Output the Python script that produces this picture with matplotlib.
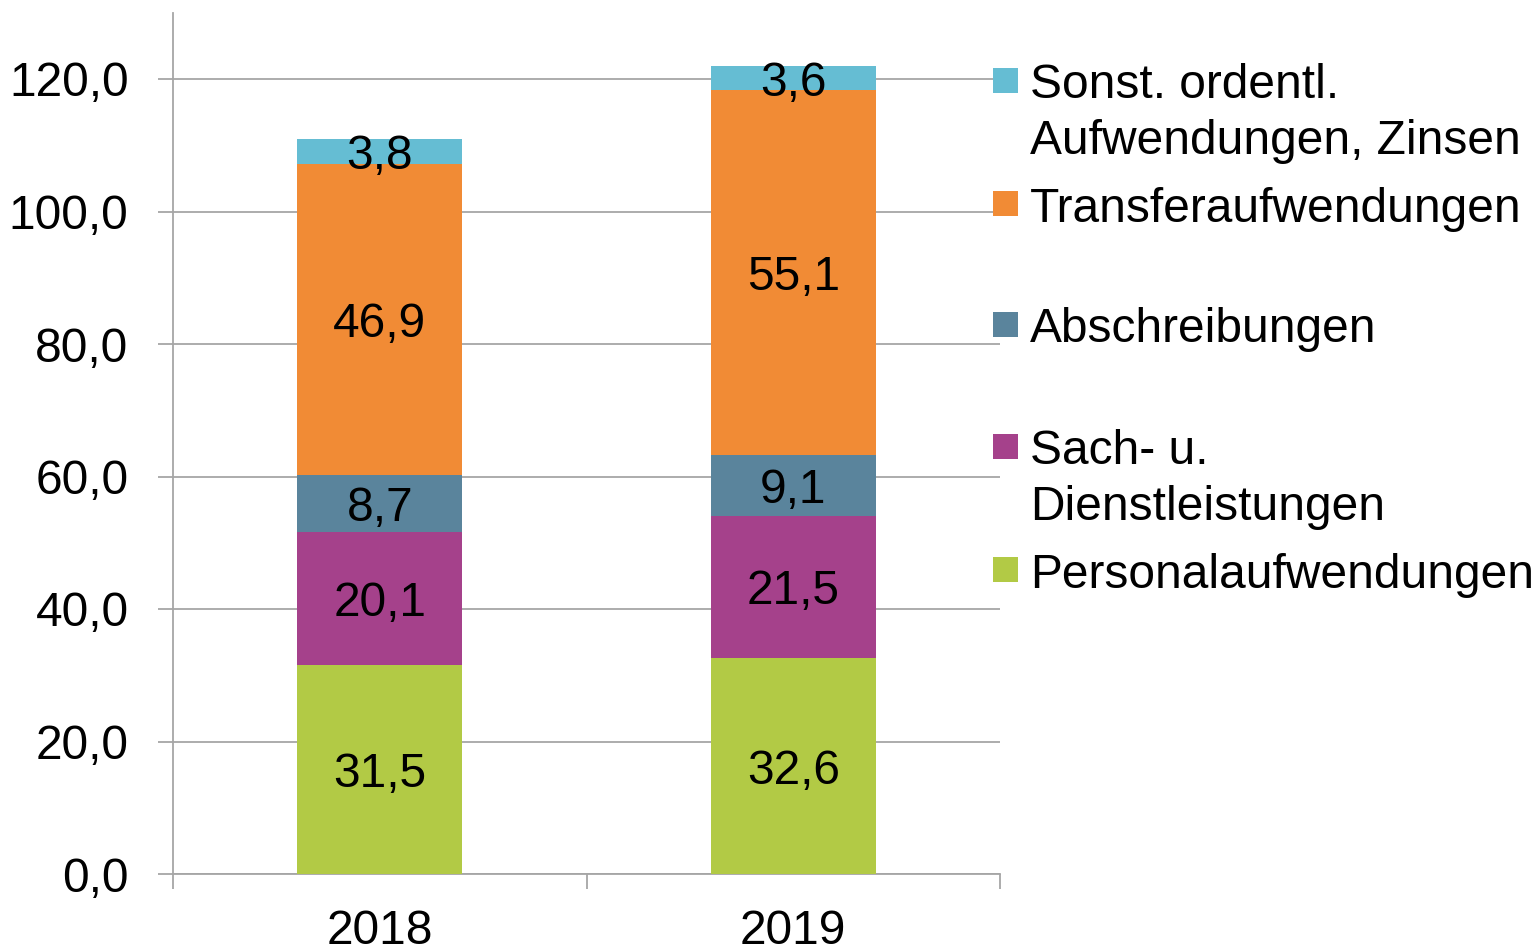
import matplotlib
matplotlib.use("Agg")
import matplotlib.pyplot as plt
from matplotlib.patches import Rectangle

years = ["2018", "2019"]
series_names = ["Personalaufwendungen", "Sach- u.\nDienstleistungen", "Abschreibungen",
                "Transferaufwendungen", "Sonst. ordentl.\nAufwendungen, Zinsen"]
values = {
    "Personalaufwendungen": [31.5, 32.6],
    "Sach- u.\nDienstleistungen": [20.1, 21.5],
    "Abschreibungen": [8.7, 9.1],
    "Transferaufwendungen": [46.9, 55.1],
    "Sonst. ordentl.\nAufwendungen, Zinsen": [3.8, 3.6],
}
colors = ["#B2CA45", "#A5418B", "#5A849C", "#F18B35", "#65BDD3"]
yticks = [0, 20, 40, 60, 80, 100, 120]

plt.rcParams['font.family'] = ['Liberation Sans', 'DejaVu Sans']
W, H = 1536, 950
fig = plt.figure(figsize=(W/100, H/100), dpi=100)
ax = fig.add_axes([173/W, 76/H, 827/W, 861.25/H])

fs = 34.5
gray = "#A6A6A6"
x = list(range(len(years)))
bottoms = [0.0]*len(years)
for name, col in zip(series_names, colors):
    vals = values[name]
    ax.bar(x, vals, width=0.4, bottom=bottoms, color=col, zorder=3)
    for xi, v, b in zip(x, vals, bottoms):
        ax.text(xi, b + v/2, f"{v:.1f}".replace(".", ","), ha="center", va="center_baseline",
                fontsize=fs, color="black", zorder=4)
    bottoms = [b + v for b, v in zip(bottoms, vals)]

ax.set_xlim(-0.5, len(years)-0.5)
ax.set_ylim(0, 130)
ax.set_yticks(yticks)
ax.set_yticklabels([f"{t:.1f}".replace(".", ",") for t in yticks], fontsize=fs)
ax.set_xticks(x)
ax.set_xticklabels(years, fontsize=fs)
ax.set_xticks([i - 0.5 for i in range(len(years)+1)], minor=True)
ax.tick_params(axis="x", which="major", length=0, pad=25)
ax.tick_params(axis="x", which="minor", length=11, width=1.3, color=gray, direction="out")
ax.tick_params(axis="y", length=11, width=1.3, color=gray, pad=21)
ax.grid(axis="y", color=gray, linewidth=1.3, zorder=1)
for s in ["top", "right"]:
    ax.spines[s].set_visible(False)
for s in ["left", "bottom"]:
    ax.spines[s].set_color(gray)
    ax.spines[s].set_linewidth(1.3)

# legend (drawn manually, reversed order like Excel)
leg_y = [81, 204, 325, 447, 570]
for name, col, yc in zip(series_names[::-1], colors[::-1], leg_y):
    fig.patches.append(Rectangle((993/W, 1-(yc+12)/H), 25/W, 25/H, transform=fig.transFigure,
                                 facecolor=col, edgecolor="none"))
    for i, line in enumerate(name.split("\n")):
        fig.text(1030/W, 1-(yc + i*55)/H, line, fontsize=fs, ha="left", va="center_baseline")

fig.savefig("out.png", dpi=100)
